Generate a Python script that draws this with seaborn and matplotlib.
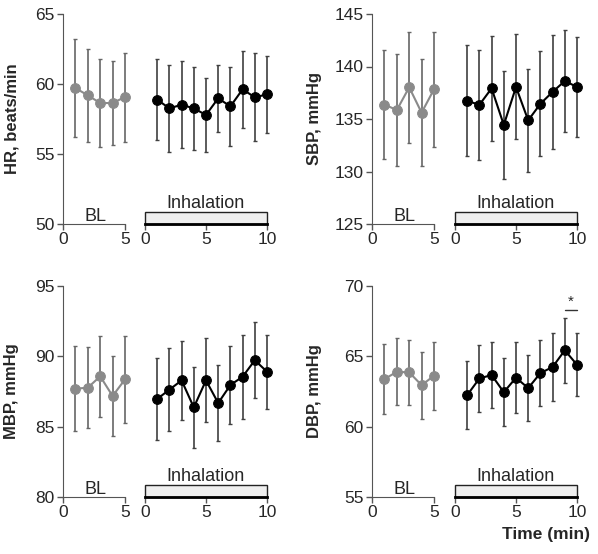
import matplotlib
matplotlib.use("Agg")
import matplotlib.pyplot as plt
import matplotlib.transforms as mtransforms
from matplotlib.patches import Rectangle
import seaborn as sns

# baseline minutes and inhalation minutes
bl_time = [1, 2, 3, 4, 5]
inh_time = [1, 2, 3, 4, 5, 6, 7, 8, 9, 10]

# HR, beats/min
hr_bl = [59.71, 59.19, 58.64, 58.64, 59.07]
hr_bl_sd = [3.49, 3.33, 3.13, 3.02, 3.18]
hr_inh = [58.88, 58.26, 58.52, 58.26, 57.79, 58.98, 58.40, 59.62, 59.05, 59.26]
hr_inh_sd = [2.90, 3.13, 3.10, 2.96, 2.65, 2.38, 2.85, 2.76, 3.15, 2.75]

# SBP, mmHg
sbp_bl = [136.38, 135.85, 138.02, 135.60, 137.83]
sbp_bl_sd = [5.2, 5.3, 5.3, 5.1, 5.5]
sbp_inh = [136.73, 136.35, 137.92, 134.43, 138.05, 134.87, 136.45, 137.58, 138.62, 138.05]
sbp_inh_sd = [5.3, 5.25, 5.0, 5.1, 5.0, 4.9, 5.0, 5.45, 4.9, 4.8]

# MBP, mmHg
mbp_bl = [87.70, 87.77, 88.58, 87.18, 88.36]
mbp_bl_sd = [3.0, 2.88, 2.89, 2.81, 3.07]
mbp_inh = [86.97, 87.63, 88.29, 86.37, 88.29, 86.68, 87.96, 88.55, 89.72, 88.91]
mbp_inh_sd = [2.94, 2.96, 2.82, 2.88, 2.99, 2.70, 2.77, 3.0, 2.70, 2.63]

# DBP, mmHg
dbp_bl = [63.38, 63.90, 63.86, 62.95, 63.62]
dbp_bl_sd = [2.5, 2.37, 2.3, 2.38, 2.4]
dbp_inh = [62.24, 63.43, 63.67, 62.45, 63.48, 62.74, 63.81, 64.24, 65.43, 64.40]
dbp_inh_sd = [2.42, 2.38, 2.37, 2.40, 2.53, 2.36, 2.37, 2.40, 2.32, 2.25]

panels = [
    ("HR, beats/min", hr_bl, hr_bl_sd, hr_inh, hr_inh_sd, [50, 55, 60, 65]),
    ("SBP, mmHg", sbp_bl, sbp_bl_sd, sbp_inh, sbp_inh_sd, [125, 130, 135, 140, 145]),
    ("MBP, mmHg", mbp_bl, mbp_bl_sd, mbp_inh, mbp_inh_sd, [80, 85, 90, 95]),
    ("DBP, mmHg", dbp_bl, dbp_bl_sd, dbp_inh, dbp_inh_sd, [55, 60, 65, 70]),
]

sns.set_style("ticks")
plt.rcParams["font.family"] = ["Liberation Sans", "DejaVu Sans"]

W, H = 598, 554
fig = plt.figure(figsize=(W / 100, H / 100), dpi=100)

# pixel layout: (bl_left, inh_left, top, bottom, ylabel_x)
layout = [(63, 145, 14, 224, 12), (372, 455, 14, 224, 315),
          (63, 145, 286, 497, 12), (372, 455, 286, 497, 315)]

spine_col = "#555555"
gray = "#8a8a8a"
tick_fs = 12.5


def px_axes(left, width, top, bottom):
    return fig.add_axes([left / W, 1 - bottom / H, width / W, (bottom - top) / H])


for (label, bl, bl_sd, inh, inh_sd, yt), (bl_l, inh_l, top, bot, lab_x) in zip(panels, layout):
    ax1 = px_axes(bl_l, 62, top, bot)
    ax2 = px_axes(inh_l, 122, top, bot)
    for ax in (ax1, ax2):
        ax.set_facecolor("none")
        ax.set_ylim(yt[0], yt[-1])
        ax.tick_params(axis="both", length=4, width=1, color=spine_col, labelsize=tick_fs, pad=2)
        for s in ["top", "right"]:
            ax.spines[s].set_visible(False)

    # baseline
    ax1.errorbar(bl_time, bl, yerr=bl_sd, fmt="none", ecolor="#666666", elinewidth=1.2,
                 capsize=1.6, capthick=1, clip_on=False, zorder=2)
    sns.lineplot(x=bl_time, y=bl, ax=ax1, color=gray, marker="o", markersize=7,
                 markeredgecolor=gray, linewidth=1.5, clip_on=False, zorder=3)
    ax1.set_xlim(0, 5)
    ax1.set_xticks([0, 5])
    ax1.set_yticks(yt)
    ax1.spines["left"].set_color(spine_col)
    ax1.spines["bottom"].set_color(spine_col)
    ax1.set_ylabel("")
    ax1.set_xlabel("")
    fig.text(lab_x / W, 1 - (top + bot) / 2 / H, label, rotation=90, ha="center", va="center",
             fontsize=12, fontweight="bold")
    ax1.text(2.6, yt[0] + 0.012 * (yt[-1] - yt[0]), "BL", ha="center", va="baseline", fontsize=13)

    # inhalation
    ax2.errorbar(inh_time, inh, yerr=inh_sd, fmt="none", ecolor="#404040", elinewidth=1.2,
                 capsize=1.6, capthick=1, clip_on=False, zorder=2)
    sns.lineplot(x=inh_time, y=inh, ax=ax2, color="black", marker="o", markersize=7,
                 markeredgecolor="black", linewidth=1.5, clip_on=False, zorder=3)
    ax2.set_xlim(0, 10)
    ax2.set_xticks([0, 5, 10])
    ax2.set_yticks([])
    ax2.set_xlabel("")
    ax2.spines["left"].set_visible(False)
    ax2.spines["bottom"].set_color("black")
    ax2.spines["bottom"].set_linewidth(2)
    trans = mtransforms.blended_transform_factory(ax2.transData, ax2.transAxes)
    ax2.add_patch(Rectangle((0, 0), 10, 0.055, transform=trans, facecolor="#efefef",
                            edgecolor="#222222", linewidth=1, clip_on=False, zorder=1))
    ax2.text(5, 0.078, "Inhalation", transform=trans, ha="center", va="baseline", fontsize=13)

    if label.startswith("DBP"):
        ax2.plot([9, 10], [68.3, 68.3], color="#333333", linewidth=1, clip_on=False)
        ax2.text(9.5, 68.35, "*", ha="center", va="bottom", fontsize=11)

fig.text(590 / W, 1 - 535 / H, "Time (min)", ha="right", va="center",
         fontsize=12.5, fontweight="bold")

fig.savefig("out.png", dpi=100)
